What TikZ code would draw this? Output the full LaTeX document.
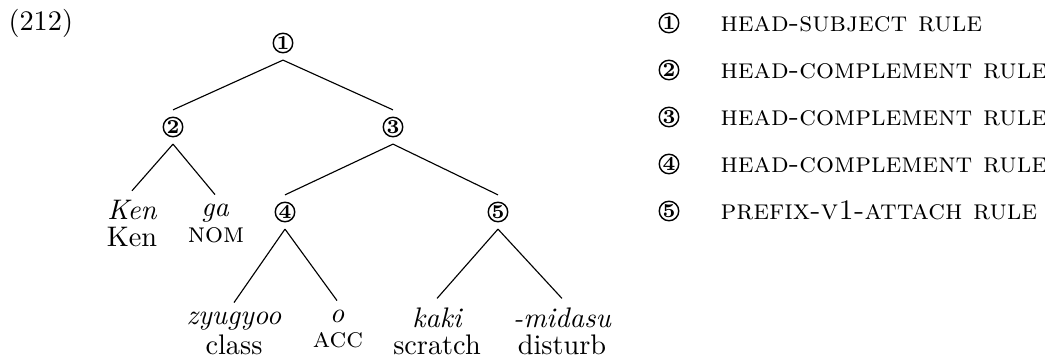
\documentclass[tikz,border=0pt]{standalone}
\tikzset{
  cnum/.style={circle, draw, line width=0.5pt, minimum size=6.9pt, inner sep=0pt, outer sep=2.6pt, font=\scriptsize\bfseries},
  word/.style={anchor=base, inner sep=3.3pt, font=\itshape},
  gloss/.style={anchor=base, inner sep=0pt},
  branch/.style={line width=0.4pt},
  rulename/.style={anchor=base west, inner sep=0pt},
}
\begin{document}
\begin{tikzpicture}[x=0.3534pt, y=-0.3534pt]
\useasboundingbox (0,0) rectangle (1045,363);
\node[anchor=base west, inner sep=0pt] (ex) at (8,31) {(212)};
% tree nodes
\node[cnum] (n1) at (283,43) {1};
\node[cnum] (n2) at (173,127) {2};
\node[cnum] (n3) at (393,127) {3};
\node[cnum] (n4) at (285,212) {4};
\node[cnum] (n5) at (498,212) {5};
% leaves
\node[word] (w1) at (132,220) {Ken};
\node[gloss] (g1) at (132,247) {Ken};
\node[word] (w2) at (215,217) {ga};
\node[gloss] (g2) at (216,243) {\textsc{nom}};
\node[word] (w3) at (234,325) {zyugyoo};
\node[gloss] (g3) at (234,355) {class};
\node[word] (w4) at (337,323) {o};
\node[gloss] (g4) at (338,348) {\textsc{acc}};
\node[word] (w5) at (437,328) {kaki};
\node[gloss] (g5) at (437,355) {scratch};
\node[word] (w6) at (562,328) {-midasu};
\node[gloss] (g6) at (562,355) {disturb};
% branches
\draw[branch] (n1.south) -- (n2.north);
\draw[branch] (n1.south) -- (n3.north);
\draw[branch] (n2.south) -- (w1.north);
\draw[branch] (n2.south) -- (w2.north);
\draw[branch] (n3.south) -- (n4.north);
\draw[branch] (n3.south) -- (n5.north);
\draw[branch] (n4.south) -- (w3.north);
\draw[branch] (n4.south) -- (w4.north);
\draw[branch] (n5.south) -- (w5.north);
\draw[branch] (n5.south) -- (w6.north);
% legend
\node[cnum] (k1) at (669,23) {1};
\node[cnum] (k2) at (669,70) {2};
\node[cnum] (k3) at (669,117) {3};
\node[cnum] (k4) at (669,164) {4};
\node[cnum] (k5) at (669,211) {5};
\node[rulename] (r1) at (720,32) {\textsc{head-subject rule}};
\node[rulename] (r2) at (720,79) {\textsc{head-complement rule}};
\node[rulename] (r3) at (720,126) {\textsc{head-complement rule}};
\node[rulename] (r4) at (720,173) {\textsc{head-complement rule}};
\node[rulename] (r5) at (720,220) {\textsc{prefix-v1-attach rule}};
\end{tikzpicture}
\end{document}
